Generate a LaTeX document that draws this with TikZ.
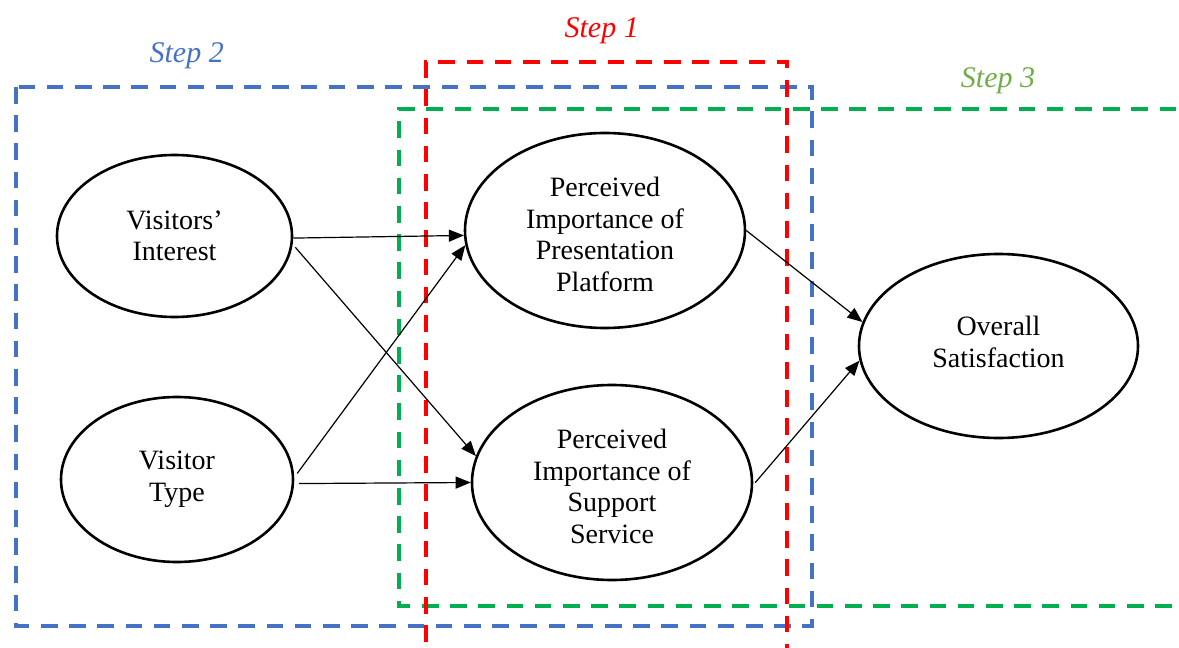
\documentclass[tikz,border=0pt]{standalone}
\usepackage{fontspec}
\setmainfont{Liberation Serif}
\usetikzlibrary{shapes.geometric,arrows.meta}
\definecolor{stepred}{HTML}{FF0000}
\definecolor{stepblue}{HTML}{4472C4}
\definecolor{stepgreen}{HTML}{00B050}
\definecolor{steplabelgreen}{HTML}{70AD47}
\tikzset{
  construct/.style={ellipse, draw=black, line width=1.3pt, inner sep=0pt,
    align=center, font=\fontsize{14}{15.8}\selectfont},
  path/.style={draw=black, line width=0.6pt,
    -{Triangle[length=7.5pt,width=6pt]}},
  stepbox/.style={line width=2pt, dash pattern=on 8.3pt off 5.8pt},
  steplabel/.style={anchor=base, font=\fontsize{15}{18}\selectfont\itshape}
}
% text block lowered inside its node without changing the node's size
\newcommand{\lowertext}[2]{\raisebox{-#1}[\height][\depth]{\begin{tabular}{@{}c@{}}#2\end{tabular}}}
\begin{document}
\begin{tikzpicture}[x=0.5pt,y=-0.5pt]
\useasboundingbox (0,0) rectangle (1179,648);
\clip (0,0) rectangle (1179,648);

% hierarchical regression steps
\draw[stepbox, stepblue] (16,87) rectangle (812,626);
\draw[stepbox, stepgreen] (1200,606) -- (399,606) -- (399,109) -- (1200,109);
\draw[stepbox, stepred] (426,670) -- (426,62) -- (787,62) -- (787,670);

\node[steplabel, text=stepred] (s1) at (601.7,37) {Step 1};
\node[steplabel, text=stepblue] (s2) at (186.7,62) {Step 2};
\node[steplabel, text=steplabelgreen] (s3) at (998,87) {Step 3};

% constructs
\node[construct, minimum width=117.5pt, minimum height=81pt] (vi) at (174.5,236) {Visitors’\\Interest};
\node[construct, minimum width=116pt, minimum height=82.5pt] (vt) at (177,479.5) {Visitor\\Type};
\node[construct, minimum width=140pt, minimum height=97.5pt] (pp) at (605,230.5) {\lowertext{3.5pt}{Perceived\\Importance of\\Presentation\\Platform}};
\node[construct, minimum width=140pt, minimum height=97.5pt] (ps) at (612,482.5) {\lowertext{3.5pt}{Perceived\\Importance of\\Support\\Service}};
\node[construct, minimum width=139.5pt, minimum height=92pt] (os) at (998.5,346) {\lowertext{-0.5pt}{Overall\\Satisfaction}};

% paths
\draw[path] (vi.-1) -- (pp.182);
\draw[path, shorten <=2pt] (vi.-4) -- (ps.169.6);
\draw[path, shorten <=2.5pt] (vt.1) -- (pp.186.8);
\draw[path, shorten <=2.5pt] (vt.-2) -- (ps.180);
\draw[path] (pp.0) -- (os.170.9);
\draw[path, shorten <=1.5pt] (ps.-1) -- (os.186.6);
\end{tikzpicture}
\end{document}
